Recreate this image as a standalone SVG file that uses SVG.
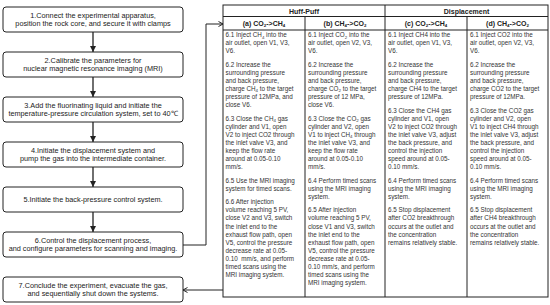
<svg xmlns="http://www.w3.org/2000/svg" width="550" height="305" viewBox="0 0 550 305">
<style>
.box{fill:#fff;stroke:#222;stroke-width:1}
.bt{font-family:"Liberation Sans",Arial,sans-serif;font-size:7.3px;fill:#222;text-anchor:middle}
.tt{font-family:"Liberation Sans",Arial,sans-serif;font-size:6.3px;fill:#333}
.th{font-family:"Liberation Sans",Arial,sans-serif;font-size:7px;font-weight:bold;fill:#222;text-anchor:middle}
.tl{stroke:#222;stroke-width:1;fill:none}
.conn{stroke:#222;stroke-width:1.3;fill:none}
.hconn{stroke:#222;stroke-width:1;fill:none}
.sb{font-size:4.4px}
</style>
<defs>
<marker id="ah" markerUnits="userSpaceOnUse" markerWidth="7" markerHeight="7" refX="6" refY="3" orient="auto">
<path d="M0,0 L6,3 L0,6 z" fill="#222"/>
</marker>
<marker id="oh" markerUnits="userSpaceOnUse" markerWidth="7" markerHeight="7" refX="5" refY="3" orient="auto">
<path d="M0.5,0.5 L5,3 L0.5,5.5" fill="none" stroke="#222" stroke-width="1"/>
</marker>
</defs>

<g id="connectors">
<line class="conn" x1="93" y1="32" x2="93" y2="52" marker-end="url(#ah)"/>
<line class="conn" x1="93" y1="77" x2="93" y2="97" marker-end="url(#ah)"/>
<line class="conn" x1="93" y1="122" x2="93" y2="142" marker-end="url(#ah)"/>
<line class="conn" x1="93" y1="167" x2="93" y2="187" marker-end="url(#ah)"/>
<line class="conn" x1="93" y1="212" x2="93" y2="232" marker-end="url(#ah)"/>
<polyline class="hconn" points="183,245 206,245 206,24 223,24" marker-end="url(#oh)"/>
<line class="hconn" x1="223" y1="290" x2="183" y2="290" marker-end="url(#oh)"/>
</g>

<g id="step1"><rect class="box" x="3" y="7" width="180" height="25" rx="3"/>
<text class="bt" x="93" y="17.8">1.Connect the experimental apparatus,</text>
<text class="bt" x="93" y="26.4">position the rock core, and secure it with clamps</text></g>
<g id="step2"><rect class="box" x="3" y="52" width="180" height="25" rx="3"/>
<text class="bt" x="93" y="62.8">2.Calibrate the parameters for</text>
<text class="bt" x="93" y="71.4">nuclear magnetic resonance imaging (MRI)</text></g>
<g id="step3"><rect class="box" x="3" y="97" width="180" height="25" rx="3"/>
<text class="bt" x="93" y="107.8">3.Add the fluorinating liquid and initiate the</text>
<text class="bt" x="93" y="116.4">temperature-pressure circulation system, set to 40℃</text></g>
<g id="step4"><rect class="box" x="3" y="142" width="180" height="25" rx="3"/>
<text class="bt" x="93" y="152.8">4.Initiate the displacement system and</text>
<text class="bt" x="93" y="161.4">pump the gas into the intermediate container.</text></g>
<g id="step5"><rect class="box" x="3" y="187" width="180" height="25" rx="3"/>
<text class="bt" x="93" y="202.1">5.Initiate the back-pressure control system.</text></g>
<g id="step6"><rect class="box" x="3" y="232" width="180" height="25" rx="3"/>
<text class="bt" x="93" y="242.8">6.Control the displacement process,</text>
<text class="bt" x="93" y="251.4">and configure parameters for scanning and imaging.</text></g>
<g id="step7"><rect class="box" x="3" y="277" width="180" height="25" rx="3"/>
<text class="bt" x="93" y="287.8">7.Conclude the experiment, evacuate the gas,</text>
<text class="bt" x="93" y="296.4">and sequentially shut down the systems.</text></g>

<g id="table">
<rect class="tl" x="223" y="5" width="325" height="292"/>
<line class="tl" x1="223" y1="16.5" x2="548" y2="16.5"/>
<line class="tl" x1="223" y1="30" x2="548" y2="30"/>
<line class="tl" x1="385" y1="5" x2="385" y2="297"/>
<line class="tl" x1="305" y1="16.5" x2="305" y2="297"/>
<line class="tl" x1="467" y1="16.5" x2="467" y2="297"/>
<text class="th" x="304" y="13.5">Huff-Puff</text>
<text class="th" x="466.5" y="13.5">Displacement</text>
<text class="th" x="264" y="26">(a) CO<tspan class="sb" dy="1.3">2</tspan><tspan dy="-1.3">-&gt;CH</tspan><tspan class="sb" dy="1.3">4</tspan></text>
<text class="th" x="345" y="26">(b) CH<tspan class="sb" dy="1.3">4</tspan><tspan dy="-1.3">-&gt;CO</tspan><tspan class="sb" dy="1.3">2</tspan></text>
<text class="th" x="426" y="26">(c) CO<tspan class="sb" dy="1.3">2</tspan><tspan dy="-1.3">-&gt;CH</tspan><tspan class="sb" dy="1.3">4</tspan></text>
<text class="th" x="507.5" y="26">(d) CH<tspan class="sb" dy="1.3">4</tspan><tspan dy="-1.3">-&gt;CO</tspan><tspan class="sb" dy="1.3">2</tspan></text>

<g id="colA" class="tt">
<text x="225.5" y="37.2">6.1 Inject CH<tspan class="sb" dy="1.3">4</tspan><tspan dy="-1.3"> into the</tspan><tspan x="225.5" dy="8.1">air outlet, open V1, V3,</tspan><tspan x="225.5" dy="8.1">V6.</tspan></text>
<text x="225.5" y="66.8">6.2 Increase the<tspan x="225.5" dy="8.1">surrounding pressure</tspan><tspan x="225.5" dy="8.1">and back pressure,</tspan><tspan x="225.5" dy="8.1">charge CH</tspan><tspan class="sb" dy="1.3">4</tspan><tspan dy="-1.3"> to the target</tspan><tspan x="225.5" dy="8.1">pressure of 12MPa, and</tspan><tspan x="225.5" dy="8.1">close V6.</tspan></text>
<text x="225.5" y="120.7">6.3 Close the CH<tspan class="sb" dy="1.3">4</tspan><tspan dy="-1.3"> gas</tspan><tspan x="225.5" dy="8.1">cylinder and V1, open</tspan><tspan x="225.5" dy="8.1">V2 to inject CO2 through</tspan><tspan x="225.5" dy="8.1">the inlet valve V3, and</tspan><tspan x="225.5" dy="8.1">keep the flow rate</tspan><tspan x="225.5" dy="8.1">around at 0.05-0.10</tspan><tspan x="225.5" dy="8.1">mm/s.</tspan></text>
<text x="225.5" y="182.7">6.5 Use the MRI imaging<tspan x="225.5" dy="8.1">system for timed scans.</tspan></text>
<text x="225.5" y="204.2">6.6 After injection<tspan x="225.5" dy="8.1">volume reaching 5 PV,</tspan><tspan x="225.5" dy="8.1">close V2 and V3, switch</tspan><tspan x="225.5" dy="8.1">the inlet end to the</tspan><tspan x="225.5" dy="8.1">exhaust flow path, open</tspan><tspan x="225.5" dy="8.1">V5, control the pressure</tspan><tspan x="225.5" dy="8.1">decrease rate at 0.05-</tspan><tspan x="225.5" dy="8.1">0.10&#160; mm/s, and perform</tspan><tspan x="225.5" dy="8.1">timed scans using the</tspan><tspan x="225.5" dy="8.1">MRI imaging system.</tspan></text>
</g>

<g id="colB" class="tt">
<text x="308" y="37.2">6.1 Inject CO<tspan class="sb" dy="1.3">2</tspan><tspan dy="-1.3"> into the</tspan><tspan x="308" dy="8.1">air outlet, open V2, V3,</tspan><tspan x="308" dy="8.1">V6.</tspan></text>
<text x="308" y="66.8">6.2 Increase the<tspan x="308" dy="8.1">surrounding pressure</tspan><tspan x="308" dy="8.1">and back pressure,</tspan><tspan x="308" dy="8.1">charge CO</tspan><tspan class="sb" dy="1.3">2</tspan><tspan dy="-1.3"> to the target</tspan><tspan x="308" dy="8.1">pressure of 12 MPa,</tspan><tspan x="308" dy="8.1">close V6.</tspan></text>
<text x="308" y="120.7">6.3 Close the CO<tspan class="sb" dy="1.3">2</tspan><tspan dy="-1.3"> gas</tspan><tspan x="308" dy="8.1">cylinder and V2, open</tspan><tspan x="308" dy="8.1">V1 to inject CH</tspan><tspan class="sb" dy="1.3">4</tspan><tspan dy="-1.3"> through</tspan><tspan x="308" dy="8.1">the inlet valve V3, and</tspan><tspan x="308" dy="8.1">keep the flow rate</tspan><tspan x="308" dy="8.1">around at 0.05-0.10</tspan><tspan x="308" dy="8.1">mm/s.</tspan></text>
<text x="308" y="182.7">6.4 Perform timed scans<tspan x="308" dy="8.1">using the MRI imaging</tspan><tspan x="308" dy="8.1">system.</tspan></text>
<text x="308" y="212.3">6.5 After injection<tspan x="308" dy="8.1">volume reaching 5 PV,</tspan><tspan x="308" dy="8.1">close V1 and V3, switch</tspan><tspan x="308" dy="8.1">the inlet end to the</tspan><tspan x="308" dy="8.1">exhaust flow path, open</tspan><tspan x="308" dy="8.1">V5, control the pressure</tspan><tspan x="308" dy="8.1">decrease rate at 0.05-</tspan><tspan x="308" dy="8.1">0.10 mm/s, and perform</tspan><tspan x="308" dy="8.1">timed scans using the</tspan><tspan x="308" dy="8.1">MRI imaging system.</tspan></text>
</g>

<g id="colC" class="tt">
<text x="388" y="37.2">6.1 Inject CH4 into the<tspan x="388" dy="8.1">air outlet, open V1, V3,</tspan><tspan x="388" dy="8.1">V6.</tspan></text>
<text x="388" y="66.8">6.2 Increase the<tspan x="388" dy="8.1">surrounding pressure</tspan><tspan x="388" dy="8.1">and back pressure,</tspan><tspan x="388" dy="8.1">charge CH4 to the target</tspan><tspan x="388" dy="8.1">pressure of 12MPa.</tspan></text>
<text x="388" y="112.6">6.3 Close the CH4 gas<tspan x="388" dy="8.1">cylinder and V1, open</tspan><tspan x="388" dy="8.1">V2 to inject CO2 through</tspan><tspan x="388" dy="8.1">the inlet valve V3, adjust</tspan><tspan x="388" dy="8.1">the back pressure, and</tspan><tspan x="388" dy="8.1">control the injection</tspan><tspan x="388" dy="8.1">speed around at 0.05-</tspan><tspan x="388" dy="8.1">0.10 mm/s.</tspan></text>
<text x="388" y="182.7">6.4 Perform timed scans<tspan x="388" dy="8.1">using the MRI imaging</tspan><tspan x="388" dy="8.1">system.</tspan></text>
<text x="388" y="212.3">6.5 Stop displacement<tspan x="388" dy="8.1">after CO2 breakthrough</tspan><tspan x="388" dy="8.1">occurs at the outlet and</tspan><tspan x="388" dy="8.1">the concentration</tspan><tspan x="388" dy="8.1">remains relatively stable.</tspan></text>
</g>

<g id="colD" class="tt">
<text x="470" y="37.2">6.1 Inject CO2 into the<tspan x="470" dy="8.1">air outlet, open V2, V3,</tspan><tspan x="470" dy="8.1">V6.</tspan></text>
<text x="470" y="66.8">6.2 Increase the<tspan x="470" dy="8.1">surrounding pressure</tspan><tspan x="470" dy="8.1">and back pressure,</tspan><tspan x="470" dy="8.1">charge CO2 to the target</tspan><tspan x="470" dy="8.1">pressure of 12MPa.</tspan></text>
<text x="470" y="112.6">6.3 Close the CO2 gas<tspan x="470" dy="8.1">cylinder and V2, open</tspan><tspan x="470" dy="8.1">V1 to inject CH4 through</tspan><tspan x="470" dy="8.1">the inlet valve V3, adjust</tspan><tspan x="470" dy="8.1">the back pressure, and</tspan><tspan x="470" dy="8.1">control the injection</tspan><tspan x="470" dy="8.1">speed around at 0.05-</tspan><tspan x="470" dy="8.1">0.10 mm/s.</tspan></text>
<text x="470" y="182.7">6.4 Perform timed scans<tspan x="470" dy="8.1">using the MRI imaging</tspan><tspan x="470" dy="8.1">system.</tspan></text>
<text x="470" y="212.3">6.5 Stop displacement<tspan x="470" dy="8.1">after CH4 breakthrough</tspan><tspan x="470" dy="8.1">occurs at the outlet and</tspan><tspan x="470" dy="8.1">the concentration</tspan><tspan x="470" dy="8.1">remains relatively stable.</tspan></text>
</g>
</g>
</svg>
